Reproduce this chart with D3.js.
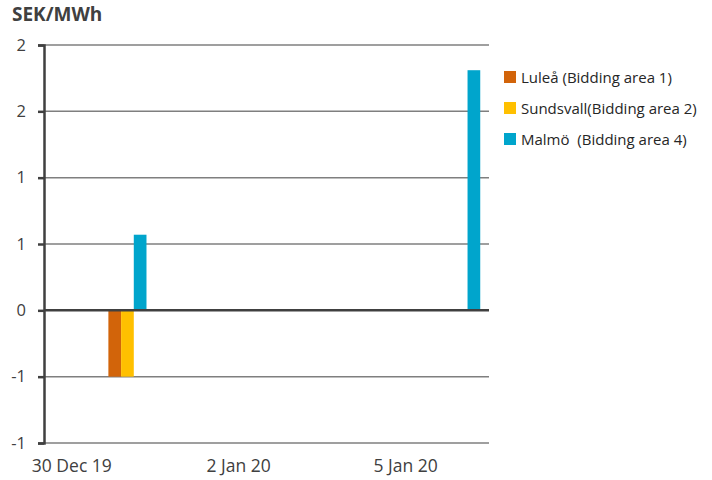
<!DOCTYPE html>
<html>
<head>
<meta charset="utf-8">
<script src="https://cdn.jsdelivr.net/npm/d3@7"></script>
<style>
  body { margin: 0; background: #fff; }
  svg { display: block; font-family: "Open Sans", sans-serif; }
</style>
</head>
<body>
<svg id="chart" width="712" height="480"></svg>
<script>
const categories = ["30 Dec 19", "31 Dec 19", "1 Jan 20", "2 Jan 20", "3 Jan 20", "4 Jan 20", "5 Jan 20", "6 Jan 20"];
const seriesNames = ["Luleå (Bidding area 1)", "Sundsvall(Bidding area 2)", "Malmö  (Bidding area 4)"];
const lulea = [0, -0.5, 0, 0, 0, 0, 0, 0];
const sundsvall = [0, -0.5, 0, 0, 0, 0, 0, 0];
const malmo = [0, 0.57, 0, 0, 0, 0, 0, 1.81];
const colors = ["#D2640A", "#FFC000", "#00A5CC"];
const yTicks = [-1, -0.5, 0, 0.5, 1, 1.5, 2];
const xLabelIndices = [0, 3, 6];
const yTitle = "SEK/MWh";

const series = [lulea, sundsvall, malmo];
const svg = d3.select("#chart");
const m = { left: 44, right: 489, top: 45, bottom: 443 };

const x = d3.scaleBand().domain(categories).range([m.left, m.right]).paddingInner(0).paddingOuter(0);
const x1 = d3.scaleBand().domain(d3.range(series.length)).range([0, x.bandwidth()]).paddingInner(0).paddingOuter(0.69);
const y = d3.scaleLinear().domain([-1, 2]).range([m.bottom, m.top]);

// gridlines
svg.append("g").selectAll("line").data(yTicks.filter(t => t !== 0)).join("line")
  .attr("x1", m.left).attr("x2", m.right)
  .attr("y1", d => y(d)).attr("y2", d => y(d))
  .attr("stroke", "#7f7f7f").attr("stroke-width", 1.5);

// bars
const fmtRound = d => { const r = Math.sign(d) * Math.round(Math.abs(d)); return r === 0 ? "0" : String(r); };
series.forEach((vals, si) => {
  svg.append("g").selectAll("rect").data(vals.map((v, i) => ({ v, c: categories[i] })).filter(d => d.v !== 0)).join("rect")
    .attr("x", d => x(d.c) + x1(si))
    .attr("width", x1.bandwidth())
    .attr("y", d => y(Math.max(0, d.v)))
    .attr("height", d => Math.abs(y(d.v) - y(0)))
    .attr("fill", colors[si]);
});

// zero line
svg.append("line").attr("x1", m.left).attr("x2", m.right).attr("y1", y(0)).attr("y2", y(0))
  .attr("stroke", "#404040").attr("stroke-width", 2.5);

// y axis
const yAxis = d3.axisLeft(y).tickValues(yTicks).tickSize(6).tickPadding(12).tickFormat(fmtRound);
const gy = svg.append("g").attr("transform", `translate(${m.left},0)`).call(yAxis);
gy.select(".domain").attr("stroke", "#404040").attr("stroke-width", 2.5);
gy.selectAll(".tick line").attr("stroke", "#404040").attr("stroke-width", 2.5);
gy.selectAll(".tick text").attr("font-size", 16.5).attr("fill", "#404040").attr("font-family", "'Open Sans', sans-serif");

// x labels
const xAxis = d3.axisBottom(x).tickValues(xLabelIndices.map(i => categories[i])).tickSize(0).tickPadding(17);
const gx = svg.append("g").attr("transform", `translate(0,${m.bottom})`).call(xAxis);
gx.select(".domain").remove();
gx.selectAll(".tick text").attr("font-size", 17.5).attr("fill", "#404040").attr("font-family", "'Open Sans', sans-serif");

// title
svg.append("text").attr("x", 12).attr("y", 21).text(yTitle)
  .attr("font-size", 19).attr("font-weight", "bold").attr("fill", "#404040");

// legend
const lg = svg.append("g");
seriesNames.forEach((n, i) => {
  const yy = 77 + i * 31;
  lg.append("rect").attr("x", 504).attr("y", yy - 6).attr("width", 12).attr("height", 12).attr("fill", colors[i]);
  lg.append("text").attr("x", 521).attr("y", yy + 5.5).text(n).attr("font-size", 15).attr("fill", "#262626")
    .attr("xml:space", "preserve").style("white-space", "pre");
});
</script>
</body>
</html>
